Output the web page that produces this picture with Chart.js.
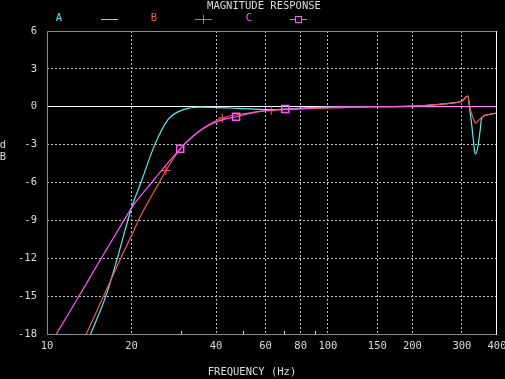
<!DOCTYPE html>
<html><head><meta charset="utf-8">
<script src="https://cdn.jsdelivr.net/npm/chart.js@4"></script>
<style>html,body{margin:0;padding:0;background:#000;}canvas{display:block}</style>
</head><body>
<canvas id="c" width="505" height="379"></canvas>
<script>
// ---- data ----
const titleText = 'MAGNITUDE RESPONSE';
const xTitleText = 'FREQUENCY (Hz)';
const yTitleChars = ['d', 'B'];
const legendLabels = ['A', 'B', 'C'];
const xTicks = [10, 20, 40, 60, 80, 100, 150, 200, 300, 400];
const xMinorTicks = [30, 50, 70, 90];
const yMin = -18, yMax = 6, yStep = 3;

const seriesA = [
  {x:13.5,y:-19.4},{x:14.3,y:-18},{x:16.2,y:-15},{x:17.8,y:-12},{x:20,y:-8.0},
  {x:21.6,y:-6},{x:24.2,y:-3},{x:27.0,y:-1.0},{x:30.6,y:-0.23},{x:35,y:-0.03},{x:45,y:-0.1},
  {x:50,y:-0.15},{x:60,y:-0.22},{x:70,y:-0.2},{x:80,y:-0.1},{x:100,y:-0.03},{x:150,y:0},
  {x:200,y:0.05},{x:244,y:0.17},{x:279,y:0.3},{x:300,y:0.45},{x:315,y:0.85},{x:320.6,y:-0.4},
  {x:325,y:-1.4},{x:329,y:-2.5},{x:333,y:-3.55},{x:336,y:-3.75},{x:343,y:-3.0},{x:348,y:-1.95},
  {x:352,y:-1.0},{x:355,y:-0.8},{x:377,y:-0.6},{x:400,y:-0.5}
];
const seriesB = [
  {x:13,y:-19.3},{x:13.8,y:-18},{x:15.9,y:-15},{x:18.3,y:-12},{x:20,y:-10.2},{x:21.6,y:-8.6},
  {x:25.1,y:-6},{x:26.5,y:-5.05},{x:29.8,y:-3.35},{x:34.7,y:-1.95},{x:42.1,y:-0.89},{x:50.7,y:-0.55},
  {x:62.9,y:-0.29},{x:80,y:-0.18},{x:102,y:-0.1},{x:145,y:0},{x:197,y:0.05},{x:244,y:0.17},
  {x:279,y:0.3},{x:300,y:0.43},{x:315,y:0.85},{x:320.6,y:-0.1},{x:329,y:-0.9},{x:335,y:-1.3},
  {x:343,y:-1.1},{x:357,y:-0.76},{x:377,y:-0.6},{x:400,y:-0.5}
];
const seriesC = [
  {x:10,y:-19.2},{x:10.8,y:-18},{x:13.0,y:-15},{x:15.6,y:-12},{x:19.3,y:-8.56},{x:20,y:-8.0},
  {x:23.6,y:-6},{x:26.3,y:-4.73},{x:29.8,y:-3.33},{x:34.1,y:-2.1},{x:38,y:-1.42},{x:42.4,y:-1.02},
  {x:47.1,y:-0.79},{x:55.8,y:-0.41},{x:70.5,y:-0.18},{x:80,y:-0.15},{x:95,y:-0.05},{x:110,y:0},
  {x:400,y:0}
];
const markersB = [{x:26.5,y:-5.05},{x:42.1,y:-0.89},{x:62.9,y:-0.29}];
const markersC = [{x:29.8,y:-3.33},{x:47.1,y:-0.79},{x:70.5,y:-0.18}];

// ---- styling ----
const FONT = '"DejaVu Sans Mono", "Liberation Mono", monospace';
const TXT = '#dcdcdc';
const CYAN = '#55eeee', RED = '#f25a50', MAG = '#ff55ff';
const GRID = '#c4c4c4', FRAME = '#8c8c8c';

const deco = {
  id: 'deco',
  beforeDraw(chart) {
    const c = chart.ctx; c.save(); c.fillStyle = '#000'; c.fillRect(0, 0, chart.width, chart.height); c.restore();
  },
  afterDraw(chart) {
    const c = chart.ctx, a = chart.chartArea, xs = chart.scales.x;
    c.save();
    c.lineWidth = 1;
    // frame
    c.strokeStyle = FRAME;
    c.beginPath();
    c.moveTo(a.left + 0.5, a.bottom + 0.5); c.lineTo(a.left + 0.5, a.top + 0.5); c.lineTo(a.right, a.top + 0.5);
    c.moveTo(a.left, a.bottom + 0.5); c.lineTo(a.right, a.bottom + 0.5);
    c.stroke();
    c.strokeStyle = '#ffffff';
    c.beginPath(); c.moveTo(a.right - 0.5, a.top); c.lineTo(a.right - 0.5, a.bottom + 1); c.stroke();
    // minor ticks
    c.strokeStyle = '#dddddd';
    xMinorTicks.forEach(v => {
      const px = Math.round(xs.getPixelForValue(v)) + 0.5;
      c.beginPath(); c.moveTo(px, a.bottom - 3); c.lineTo(px, a.bottom); c.stroke();
    });
    // texts
    c.font = '10.5px ' + FONT; c.textAlign = 'center'; c.textBaseline = 'middle';
    c.fillStyle = TXT;
    c.fillText(titleText, 264, 6);
    c.fillText(xTitleText, 252, 372);
    c.fillText(yTitleChars[0], 3, 145);
    c.fillText(yTitleChars[1], 3, 157);
    // legend
    const ly = 18;
    c.fillStyle = CYAN; c.fillText(legendLabels[0], 59, ly);
    c.fillStyle = RED; c.fillText(legendLabels[1], 154, ly);
    c.fillStyle = MAG; c.fillText(legendLabels[2], 249, ly);
    c.strokeStyle = CYAN; c.beginPath(); c.moveTo(101, ly + 1.5); c.lineTo(118, ly + 1.5); c.stroke();
    c.strokeStyle = RED; c.beginPath(); c.moveTo(195, ly + 1.5); c.lineTo(212, ly + 1.5);
    c.moveTo(203.5, ly - 3); c.lineTo(203.5, ly + 6); c.stroke();
    c.strokeStyle = MAG; c.beginPath(); c.moveTo(290, ly + 1.5); c.lineTo(295, ly + 1.5);
    c.moveTo(302, ly + 1.5); c.lineTo(307, ly + 1.5); c.stroke();
    c.strokeRect(295.5, ly - 1.5, 6, 6);
    c.restore();
  }
};

const lineDs = (label, data, color, order) => ({
  label, data, borderColor: color, backgroundColor: color, borderWidth: 1.2,
  pointRadius: 0, cubicInterpolationMode: 'monotone', fill: false, order
});

new Chart(document.getElementById('c'), {
  type: 'line',
  data: {
    datasets: [
      lineDs('A', seriesA, CYAN, 2),
      lineDs('B', seriesB, RED, 1),
      lineDs('C', seriesC, MAG, 0),
      { label: 'B markers', data: markersB, showLine: false, pointStyle: 'cross', pointRadius: 4.5,
        borderColor: RED, borderWidth: 1, order: 0 },
      { label: 'C markers', data: markersC, showLine: false, pointStyle: 'rect', pointRadius: 5,
        borderColor: MAG, backgroundColor: 'rgba(0,0,0,0)', borderWidth: 1.5, order: 0 }
    ]
  },
  options: {
    responsive: false, animation: false, devicePixelRatio: 1, events: [],
    layout: { padding: { top: 31, right: 8, left: 0, bottom: 0 } },
    plugins: { legend: { display: false }, tooltip: { enabled: false }, title: { display: false } },
    scales: {
      x: {
        type: 'logarithmic', min: 10, max: 400,
        afterBuildTicks: s => { s.ticks = xTicks.map(v => ({ value: v })); },
        afterFit: s => { s.height = 45; s.paddingLeft = 0; s.paddingRight = 0; },
        ticks: { callback: v => String(v), color: TXT, font: { family: FONT, size: 10.5 },
          padding: 6, maxRotation: 0, autoSkip: false },
        grid: {
          drawTicks: false,
          color: ctx => (ctx.tick && (ctx.tick.value === 10 || ctx.tick.value === 400)) ? 'rgba(0,0,0,0)' : GRID,
          lineWidth: 1
        },
        border: { display: false, dash: [2, 2] }
      },
      y: {
        type: 'linear', min: yMin, max: yMax,
        ticks: { stepSize: yStep, callback: v => String(v), color: TXT, font: { family: FONT, size: 10.5 }, padding: 10 },
        afterFit: s => { s.width = 47; },
        grid: {
          drawTicks: false,
          color: ctx => {
            if (!ctx.tick) return GRID;
            const v = ctx.tick.value;
            if (v === yMin || v === yMax) return 'rgba(0,0,0,0)';
            return v === 0 ? '#ffffff' : GRID;
          },
          lineWidth: 1
        },
        border: { display: false, dash: ctx => (ctx.tick && ctx.tick.value === 0) ? [] : [2, 2] }
      }
    }
  },
  plugins: [deco]
});
</script>
</body></html>
